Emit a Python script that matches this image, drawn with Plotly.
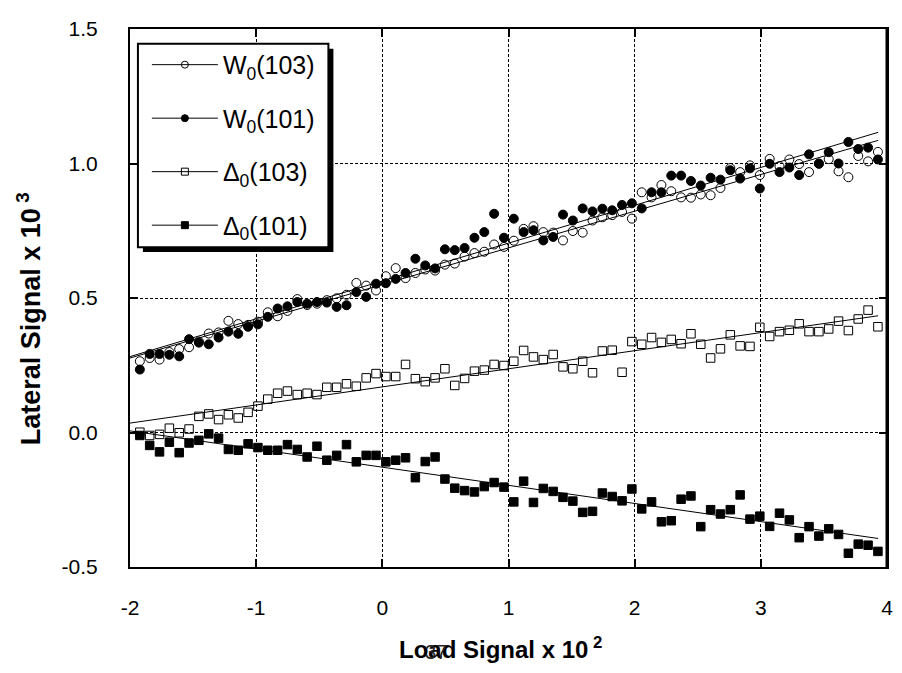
import plotly.graph_objects as go

# Shared x positions (Load Signal x 10^2)
X = [-1.922, -1.844, -1.766, -1.688, -1.610, -1.532, -1.454, -1.376, -1.298, -1.220,
     -1.142, -1.064, -0.986, -0.908, -0.830, -0.752, -0.674, -0.596, -0.518, -0.440,
     -0.362, -0.284, -0.206, -0.128, -0.050, 0.028, 0.106, 0.184, 0.262, 0.340,
     0.418, 0.496, 0.574, 0.652, 0.730, 0.808, 0.886, 0.964, 1.042, 1.120,
     1.198, 1.276, 1.354, 1.432, 1.510, 1.588, 1.666, 1.744, 1.822, 1.900,
     1.978, 2.056, 2.134, 2.212, 2.290, 2.368, 2.446, 2.524, 2.602, 2.680,
     2.758, 2.836, 2.914, 2.992, 3.070, 3.148, 3.226, 3.304, 3.382, 3.460,
     3.538, 3.616, 3.694, 3.772, 3.850, 3.928]

W0_103 = [0.265, 0.277, 0.271, 0.299, 0.310, 0.317, 0.338, 0.368, 0.372, 0.415,
          0.403, 0.400, 0.412, 0.447, 0.432, 0.452, 0.496, 0.474, 0.479, 0.492,
          0.499, 0.512, 0.556, 0.546, 0.528, 0.581, 0.611, 0.574, 0.593, 0.606,
          0.602, 0.624, 0.628, 0.654, 0.667, 0.672, 0.699, 0.690, 0.713, 0.757,
          0.767, 0.745, 0.743, 0.714, 0.749, 0.743, 0.788, 0.800, 0.808, 0.820,
          0.795, 0.893, 0.874, 0.920, 0.897, 0.874, 0.873, 0.885, 0.882, 0.909,
          0.983, 0.968, 0.993, 0.957, 1.017, 0.990, 1.015, 0.998, 0.968, 1.000,
          1.016, 0.971, 0.949, 1.028, 1.008, 1.043]

W0_101 = [0.234, 0.292, 0.292, 0.289, 0.283, 0.347, 0.334, 0.328, 0.353, 0.375,
          0.367, 0.393, 0.402, 0.430, 0.461, 0.469, 0.485, 0.479, 0.485, 0.483,
          0.467, 0.473, 0.522, 0.504, 0.553, 0.555, 0.571, 0.593, 0.646, 0.621,
          0.610, 0.681, 0.678, 0.686, 0.724, 0.745, 0.813, 0.724, 0.795, 0.745,
          0.752, 0.714, 0.727, 0.810, 0.788, 0.833, 0.822, 0.832, 0.826, 0.846,
          0.852, 0.833, 0.893, 0.893, 0.955, 0.955, 0.935, 0.918, 0.947, 0.940,
          0.975, 0.944, 0.982, 0.907, 0.999, 0.968, 0.985, 0.957, 1.034, 0.999,
          1.042, 1.000, 1.080, 1.054, 1.059, 1.015]

D0_103 = [0.001, -0.011, -0.007, 0.016, -0.001, 0.013, 0.060, 0.069, 0.048, 0.066,
          0.054, 0.075, 0.098, 0.124, 0.146, 0.154, 0.141, 0.146, 0.141, 0.168,
          0.168, 0.181, 0.172, 0.203, 0.219, 0.208, 0.208, 0.253, 0.200, 0.189,
          0.203, 0.237, 0.175, 0.201, 0.228, 0.232, 0.253, 0.249, 0.265, 0.305,
          0.281, 0.271, 0.290, 0.244, 0.237, 0.265, 0.222, 0.303, 0.306, 0.224,
          0.338, 0.328, 0.353, 0.335, 0.346, 0.330, 0.367, 0.328, 0.277, 0.311,
          0.363, 0.322, 0.320, 0.391, 0.357, 0.375, 0.380, 0.404, 0.375, 0.375,
          0.385, 0.414, 0.379, 0.422, 0.455, 0.393]

D0_101 = [-0.011, -0.048, -0.072, -0.036, -0.075, -0.039, -0.029, -0.005, -0.021, -0.063,
          -0.066, -0.042, -0.056, -0.066, -0.066, -0.045, -0.063, -0.091, -0.051, -0.103,
          -0.085, -0.045, -0.109, -0.085, -0.085, -0.109, -0.103, -0.094, -0.168, -0.108,
          -0.091, -0.173, -0.207, -0.216, -0.221, -0.201, -0.186, -0.203, -0.258, -0.181,
          -0.260, -0.208, -0.219, -0.241, -0.255, -0.297, -0.293, -0.225, -0.238, -0.254,
          -0.210, -0.284, -0.258, -0.332, -0.328, -0.248, -0.236, -0.350, -0.287, -0.303,
          -0.287, -0.232, -0.322, -0.311, -0.349, -0.300, -0.325, -0.391, -0.350, -0.385,
          -0.358, -0.379, -0.449, -0.415, -0.419, -0.442]

# Linear fit lines (end points)
FIT_X = [-2.0, 3.93]
FIT_W0_103 = [0.277, 1.086]
FIT_W0_101 = [0.282, 1.116]
FIT_D0_103 = [0.035, 0.434]
FIT_D0_101 = [0.006, -0.394]

NAMES = ["W<sub>0</sub>(103)", "W<sub>0</sub>(101)", "Δ<sub>0</sub>(103)", "Δ<sub>0</sub>(101)"]
X_TICKS = [-2, -1, 0, 1, 2, 3, 4]
X_TICKTEXT = ["-2", "-1", "0", "1", "2", "3", "4"]
Y_TICKS = [-0.5, 0.0, 0.5, 1.0, 1.5]
Y_TICKTEXT = ["-0.5", "0.0", "0.5", "1.0", "1.5"]

FONT = "Liberation Sans, Arial, Helvetica, sans-serif"

series = [
    (W0_103, FIT_W0_103, "circle-open", 9),
    (W0_101, FIT_W0_101, "circle", 9),
    (D0_103, FIT_D0_103, "square-open", 8.5),
    (D0_101, FIT_D0_101, "square", 8.5),
]

fig = go.Figure()
for k, (ys, fit, sym, sz) in enumerate(series):
    grp = f"g{k}"
    fig.add_trace(go.Scatter(
        x=FIT_X, y=fit, mode="lines", line=dict(color="black", width=1),
        showlegend=False, legendgroup=grp, hoverinfo="skip"))
    fig.add_trace(go.Scatter(
        x=X, y=ys, mode="markers",
        marker=dict(symbol=sym, size=sz, color="black", line=dict(color="black", width=1)),
        showlegend=False, legendgroup=grp))
    # legend entry: line with marker
    fig.add_trace(go.Scatter(
        x=[None], y=[None], mode="lines+markers", name=NAMES[k],
        line=dict(color="black", width=1),
        marker=dict(symbol=sym, size=7, color="black", line=dict(color="black", width=1)),
        legendgroup=grp, showlegend=True))

axis_common = dict(
    showline=True, linecolor="black", linewidth=2, mirror="ticks",
    ticks="inside", ticklen=8, tickwidth=1.5, tickcolor="black",
    showgrid=True, gridcolor="black", gridwidth=1, griddash="3px,2px",
    zeroline=False,
    tickfont=dict(family=FONT, size=21, color="black"),
)

fig.update_xaxes(range=[-2, 4], tickvals=X_TICKS, ticktext=X_TICKTEXT,
                 ticklabelstandoff=21, **axis_common)
fig.update_yaxes(range=[-0.5, 1.5], tickvals=Y_TICKS, ticktext=Y_TICKTEXT,
                 ticklabelstandoff=26, **axis_common)

# plot area in page pixels: x 130..893, y 22..567 (page body has an 8px margin)
fig.update_layout(
    width=894, height=665,
    margin=dict(l=122, r=9, t=14, b=106),
    paper_bgcolor="white", plot_bgcolor="white",
    font=dict(family=FONT, color="black"),
    legend=dict(
        x=0.0223, y=0.976, xanchor="left", yanchor="top",
        bgcolor="rgba(0,0,0,0)", borderwidth=0,
        font=dict(family=FONT, size=25, color="black"),
        tracegroupgap=18, itemwidth=66,
    ),
    shapes=[
        # legend box shadow and frame
        dict(type="rect", xref="paper", yref="paper", layer="above",
             x0=0.01704, x1=0.2687, y0=0.5853, y1=0.9633,
             fillcolor="black", line=dict(width=0)),
        dict(type="rect", xref="paper", yref="paper", layer="above",
             x0=0.01048, x1=0.2621, y0=0.5945, y1=0.9725,
             fillcolor="white", line=dict(color="black", width=2)),
        # thicker right frame edge
        dict(type="line", xref="paper", yref="paper", x0=1, x1=1, y0=0, y1=1,
             line=dict(color="black", width=3)),
    ],
    annotations=[
        dict(text="<b>Lateral Signal x 10<sup> 3</sup></b>", xref="paper", yref="paper",
             x=0, y=(567 - 316) / 545, xshift=-101, textangle=-90, showarrow=False,
             font=dict(family=FONT, size=27, color="black"), xanchor="center", yanchor="middle"),
        dict(text="<b>Load Signal x 10<sup> 2</sup></b>", xref="paper", yref="paper",
             x=0.490, y=0, yshift=-81, showarrow=False,
             font=dict(family=FONT, size=24, color="black"), xanchor="center", yanchor="middle"),
        dict(text="37", xref="paper", yref="paper", x=(438 - 130) / 763, y=0, yshift=-85,
             showarrow=False, font=dict(family=FONT, size=20, color="#222"),
             xanchor="center", yanchor="middle"),
    ],
)

fig.write_html("out.html")
